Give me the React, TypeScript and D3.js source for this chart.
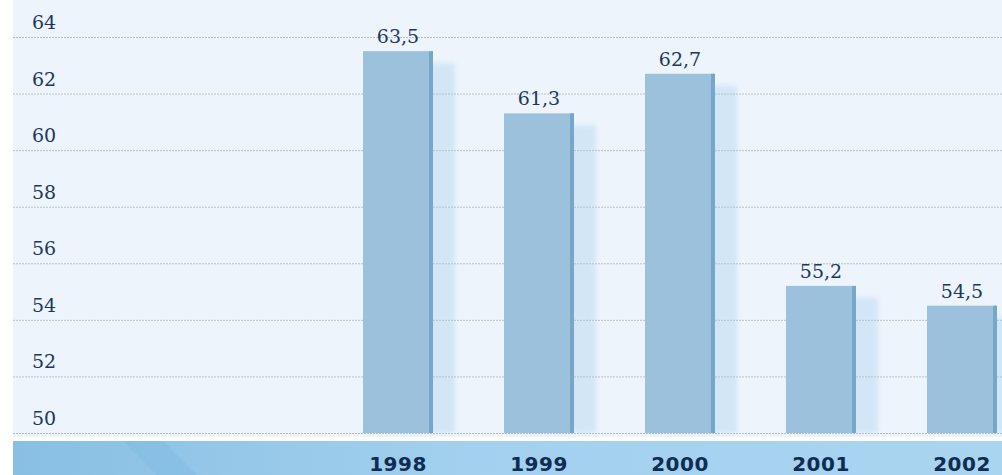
import { useEffect, useRef } from 'react';
import * as d3 from 'd3';

const years = ['1998', '1999', '2000', '2001', '2002'];
const values = [63.5, 61.3, 62.7, 55.2, 54.5];
const valueLabels = ['63,5', '61,3', '62,7', '55,2', '54,5'];
const yTicks = [50, 52, 54, 56, 58, 60, 62, 64];

const App = () => {
  const svgRef = useRef<SVGSVGElement>(null);

  useEffect(() => {
    const width = 1002;
    const height = 475;
    const left = 13;
    const barW = 70;

    const svg = d3.select(svgRef.current);
    svg.selectAll('*').remove();
    svg.attr('width', width).attr('height', height);

    // scales
    const x = d3.scalePoint<string>().domain(years).range([398, 962]);
    const y = d3.scaleLinear().domain([50, 64]).range([433, 37]);

    const defs = svg.append('defs');
    defs.append('filter').attr('id', 'soft')
      .attr('x', '-20%').attr('y', '-20%').attr('width', '140%').attr('height', '140%')
      .append('feGaussianBlur').attr('stdDeviation', 2.5);
    defs.append('filter').attr('id', 'edge')
      .append('feGaussianBlur').attr('stdDeviation', 0.7);

    const band = defs.append('linearGradient').attr('id', 'band')
      .attr('x1', '0%').attr('x2', '100%');
    band.append('stop').attr('offset', '0%').attr('stop-color', '#88bfe3');
    band.append('stop').attr('offset', '45%').attr('stop-color', '#a2d0ee');
    band.append('stop').attr('offset', '100%').attr('stop-color', '#aad5f1');

    // plot background
    svg.append('rect')
      .attr('x', left).attr('y', 0)
      .attr('width', width - left).attr('height', 437)
      .attr('fill', '#edf4fc');

    // shadows behind bars
    svg.append('g').attr('filter', 'url(#soft)')
      .selectAll('rect')
      .data(values)
      .join('rect')
      .attr('x', (d, i) => x(years[i])! - barW / 2 + 22)
      .attr('y', d => y(d) + 12)
      .attr('width', barW)
      .attr('height', d => y(50) - y(d) - 12)
      .attr('fill', '#d2e6f6');

    // gridlines
    svg.append('g')
      .selectAll('line')
      .data(yTicks)
      .join('line')
      .attr('x1', left).attr('x2', width)
      .attr('y1', d => y(d) + 0.5).attr('y2', d => y(d) + 0.5)
      .attr('stroke', '#b9c2cc')
      .attr('stroke-width', 1)
      .attr('stroke-dasharray', '2,1');

    // bars
    const bars = svg.append('g').attr('filter', 'url(#edge)');
    bars.selectAll('rect.bar')
      .data(values)
      .join('rect')
      .attr('class', 'bar')
      .attr('x', (d, i) => x(years[i])! - barW / 2)
      .attr('y', d => y(d))
      .attr('width', barW)
      .attr('height', d => y(50) - y(d))
      .attr('fill', '#9cc1dc');
    bars.selectAll('rect.edge')
      .data(values)
      .join('rect')
      .attr('class', 'edge')
      .attr('x', (d, i) => x(years[i])! + barW / 2 - 4)
      .attr('y', d => y(d))
      .attr('width', 4)
      .attr('height', d => y(50) - y(d))
      .attr('fill', '#76a7c8');

    // value labels
    svg.append('g')
      .selectAll('text')
      .data(values)
      .join('text')
      .attr('x', (d, i) => x(years[i])!)
      .attr('y', d => y(d) - 8)
      .attr('text-anchor', 'middle')
      .attr('font-family', 'DejaVu Serif')
      .attr('font-size', 19)
      .attr('fill', '#1b385c')
      .text((d, i) => valueLabels[i]);

    // y tick labels
    svg.append('g')
      .selectAll('text')
      .data(yTicks)
      .join('text')
      .attr('x', 32)
      .attr('y', d => y(d) - 8)
      .attr('font-family', 'DejaVu Serif')
      .attr('font-size', 19)
      .attr('fill', '#1b385c')
      .text(d => d);

    // bottom band with years
    svg.append('rect')
      .attr('x', left).attr('y', 441)
      .attr('width', width - left).attr('height', height - 441)
      .attr('fill', 'url(#band)');
    svg.append('path')
      .attr('d', `M${left + 110},441 L${left + 150},441 L${left + 184},475 L${left + 144},475 Z`)
      .attr('fill', '#6fb0dc').attr('opacity', 0.25);

    svg.append('g')
      .selectAll('text')
      .data(years)
      .join('text')
      .attr('x', d => x(d)!)
      .attr('y', 471)
      .attr('text-anchor', 'middle')
      .attr('font-family', 'DejaVu Sans')
      .attr('font-weight', 'bold')
      .attr('font-size', 20)
      .attr('letter-spacing', 0.5)
      .attr('fill', '#0f2c52')
      .text(d => d);
  }, []);

  return (
    <svg ref={svgRef} style={{ position: 'absolute', left: 0, top: 0, display: 'block' }}></svg>
  );
};

export default App;
